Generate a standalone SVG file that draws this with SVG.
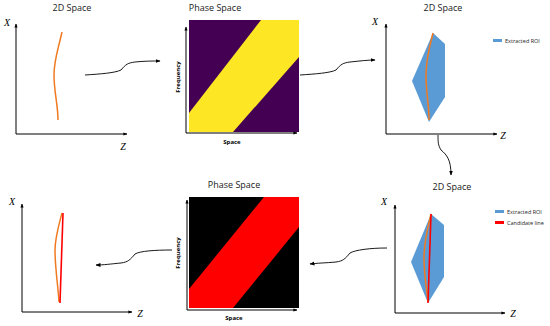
<svg xmlns="http://www.w3.org/2000/svg" width="550" height="326" viewBox="0 0 550 326">
<defs>
<marker id="ah" viewBox="0 0 10 10" refX="9" refY="5" markerWidth="5" markerHeight="5" orient="auto-start-reverse" markerUnits="userSpaceOnUse">
<path d="M0,1 L10,5 L0,9 z" fill="#000"/>
</marker>
<marker id="ah2" viewBox="0 0 10 10" refX="9" refY="5" markerWidth="4" markerHeight="4" orient="auto-start-reverse" markerUnits="userSpaceOnUse">
<path d="M0,1 L10,5 L0,9 z" fill="#000"/>
</marker>
</defs>
<style>
.title{font-family:"Open Sans","Liberation Sans",sans-serif;font-size:9px;fill:#222;text-anchor:middle}
.ax{stroke:#000;stroke-width:1;fill:none}
.axl{font-family:"Liberation Serif",serif;font-style:italic;font-size:10px;fill:#000;text-anchor:middle}
.ps{font-family:"Open Sans","Liberation Sans",sans-serif;font-weight:bold;font-size:6px;fill:#000;text-anchor:middle}
.lg{font-family:"Open Sans","Liberation Sans",sans-serif;font-size:5.5px;fill:#222}
.orange{stroke:#f07a20;stroke-width:1.5;fill:none}
.red{stroke:#ff0000;stroke-width:1.6;fill:none}
.roi{fill:#5b9bd5}
.conn{stroke:#000;stroke-width:0.9;fill:none}
</style>
<rect width="550" height="326" fill="#fff"/>

<g id="panel-top-left">
<text class="title" x="72" y="11">2D Space</text>
<text class="axl" x="7" y="26">X</text>
<path class="ax" d="M16,134 L16,24" marker-end="url(#ah2)"/>
<path class="ax" d="M16,134 L127,134" marker-end="url(#ah2)"/>
<text class="axl" x="123" y="150">Z</text>
<path class="orange" d="M62,32 C58,50 54,60 54,75 C54,92 58,105 58,120"/>
</g>

<g id="phase-top">
<text class="title" x="215" y="11">Phase Space</text>
<rect x="189" y="20" width="110" height="112" fill="#440154"/>
<polygon points="189,113 261,20 299,20 299,57 233,132 189,132" fill="#fde725"/>
<path class="ax" d="M186,133 L186,27" marker-end="url(#ah2)"/>
<path class="ax" d="M186,133 L297,133" marker-end="url(#ah2)"/>
<text class="ps" x="180" y="77" transform="rotate(-90 180 77)">Frequency</text>
<text class="ps" x="232" y="144">Space</text>
</g>

<g id="panel-top-right">
<text class="title" x="443" y="11">2D Space</text>
<text class="axl" x="375" y="25">X</text>
<path class="ax" d="M386,134 L386,24" marker-end="url(#ah2)"/>
<path class="ax" d="M386,134 L497,134" marker-end="url(#ah2)"/>
<text class="axl" x="503" y="139">Z</text>
<polygon class="roi" points="433,33 445,44 445,97 429,122 412,81"/>
<path class="orange" d="M433,33 C429,48 426,60 426,75 C426,92 429,105 429,120"/>
<rect x="493" y="39" width="9" height="3" class="roi"/>
<text class="lg" x="505" y="42.5">Extracted ROI</text>
</g>

<g id="panel-bottom-right">
<text class="title" x="452" y="190">2D Space</text>
<text class="axl" x="384" y="205">X</text>
<path class="ax" d="M395,313 L395,205" marker-end="url(#ah2)"/>
<path class="ax" d="M395,313 L505,313" marker-end="url(#ah2)"/>
<text class="axl" x="513" y="317">Z</text>
<polygon class="roi" points="431,214 444,225 444,277 428,303 411,262"/>
<path class="orange" d="M431,214 C427,230 424,243 424,258 C424,275 427,290 428,302"/>
<path class="red" d="M431,214 L428,303"/>
<rect x="495" y="210" width="9" height="3" class="roi"/>
<text class="lg" x="507" y="213.5">Extracted ROI</text>
<rect x="495" y="221" width="9" height="3" fill="#ff0000"/>
<text class="lg" x="507" y="224.5">Candidate line</text>
</g>

<g id="phase-bottom">
<text class="title" x="234" y="188">Phase Space</text>
<rect x="189" y="197" width="110" height="111" fill="#000"/>
<polygon points="189,289 264,197 299,197 299,227 233,308 189,308" fill="#ff0000"/>
<path class="ax" d="M187,310 L187,200" marker-end="url(#ah2)"/>
<path class="ax" d="M187,310 L297,310" marker-end="url(#ah2)"/>
<text class="ps" x="180" y="253" transform="rotate(-90 180 253)">Frequency</text>
<text class="ps" x="234" y="320">Space</text>
</g>

<g id="panel-bottom-left">
<text class="axl" x="12" y="205">X</text>
<path class="ax" d="M22,312 L22,204" marker-end="url(#ah2)"/>
<path class="ax" d="M22,312 L132,312" marker-end="url(#ah2)"/>
<text class="axl" x="140" y="317">Z</text>
<path class="orange" d="M62,213 C58,228 55,238 55,250 C55,268 58,285 59,302"/>
<path class="red" d="M63,213 L60,303"/>
</g>

<g id="connectors">
<path class="conn" d="M85,75 C100,74 115,73 121,70 C126,64 128,63 135,62 C145,61 152,61 160,61" marker-end="url(#ah)"/>
<path class="conn" d="M300,75 C315,74 330,73 336,70 C341,64 343,63 350,62 C360,61 367,60 375,60" marker-end="url(#ah)"/>
<path class="conn" d="M438,135 C438,142 438,145 441,150 C447,155 451,160 451,175" marker-end="url(#ah)"/>
<path class="conn" d="M387,248 C370,248 355,250 350,253 C345,259 343,261 336,262 C325,263 318,263 310,264" marker-end="url(#ah)"/>
<path class="conn" d="M172,250 C155,250 140,251 135,254 C130,260 128,262 121,263 C110,264 104,265 96,265" marker-end="url(#ah)"/>
</g>
</svg>
